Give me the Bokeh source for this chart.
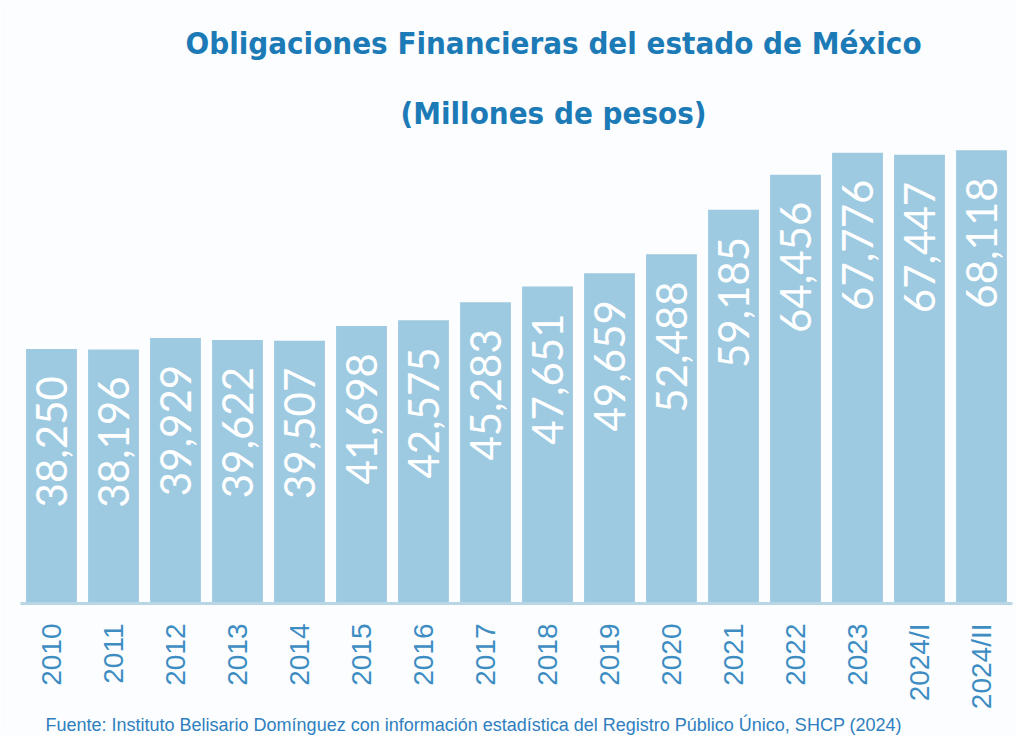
from math import pi
from bokeh.plotting import figure
from bokeh.models import Range1d, FactorRange, Title, ColumnDataSource
from bokeh.core.properties import value
from bokeh.embed import file_html
from bokeh.resources import INLINE

years = ["2010", "2011", "2012", "2013", "2014", "2015", "2016", "2017",
         "2018", "2019", "2020", "2021", "2022", "2023", "2024/I", "2024/II"]
debt = [38250, 38196, 39929, 39622, 39507, 41698, 42575, 45283,
        47651, 49659, 52488, 59185, 64456, 67776, 67447, 68118]
debt_labels = [f"{v:,}" for v in debt]

title_1 = "Obligaciones Financieras del estado de México"
title_2 = "(Millones de pesos)"
source_note = ("Fuente: Instituto Belisario Domínguez con información estadística "
               "del Registro Público Único, SHCP (2024)")

BG = "#fbfdfe"
BAR = "#9dcae1"
BLUE = "#1c7ab6"
LABEL_BLUE = "#3d8dc3"

p = figure(width=1016, height=735, output_backend="svg", toolbar_location=None,
           x_range=FactorRange(factors=years, range_padding=0),
           y_range=Range1d(0, 69750),
           min_border_left=20, min_border_right=4,
           min_border_top=138, min_border_bottom=132)
p.background_fill_color = BG
p.border_fill_color = BG
p.outline_line_color = None
p.grid.grid_line_color = None
p.yaxis.visible = False

src = ColumnDataSource(dict(x=years, top=debt, lab=debt_labels))
p.vbar(x="x", top="top", width=0.82, source=src, fill_color=BAR, line_color=None)
p.text(x="x", y="top", text="lab", source=src, angle=pi/2,
       text_align="right", text_baseline="middle", y_offset=27,
       text_color="white", text_font=value("Lato"),
       text_font_size="42px")

xa = p.xaxis[0]
xa.axis_line_color = "#b9d6e5"
xa.axis_line_width = 3
xa.major_tick_line_color = None
xa.minor_tick_line_color = None
xa.major_label_orientation = pi/2
xa.major_label_standoff = 14
xa.major_label_text_font = "Liberation Sans"
xa.major_label_text_font_size = "28px"
xa.major_label_text_color = LABEL_BLUE

p.add_layout(Title(text=title_2, align="left", offset=380, standoff=18,
                   text_font="DejaVu Sans Condensed", text_font_style="bold",
                   text_font_size="31px", text_color=BLUE), "above")
p.add_layout(Title(text=title_1, align="left", offset=165, standoff=45,
                   text_font="DejaVu Sans Condensed", text_font_style="bold",
                   text_font_size="31px", text_color=BLUE), "above")
p.add_layout(Title(text=source_note, align="left", offset=25, standoff=0,
                   text_font="Liberation Sans", text_font_style="normal",
                   text_font_size="18px", text_color="#2f7fc0"), "below")

open("out.html", "w").write(file_html(p, INLINE))
